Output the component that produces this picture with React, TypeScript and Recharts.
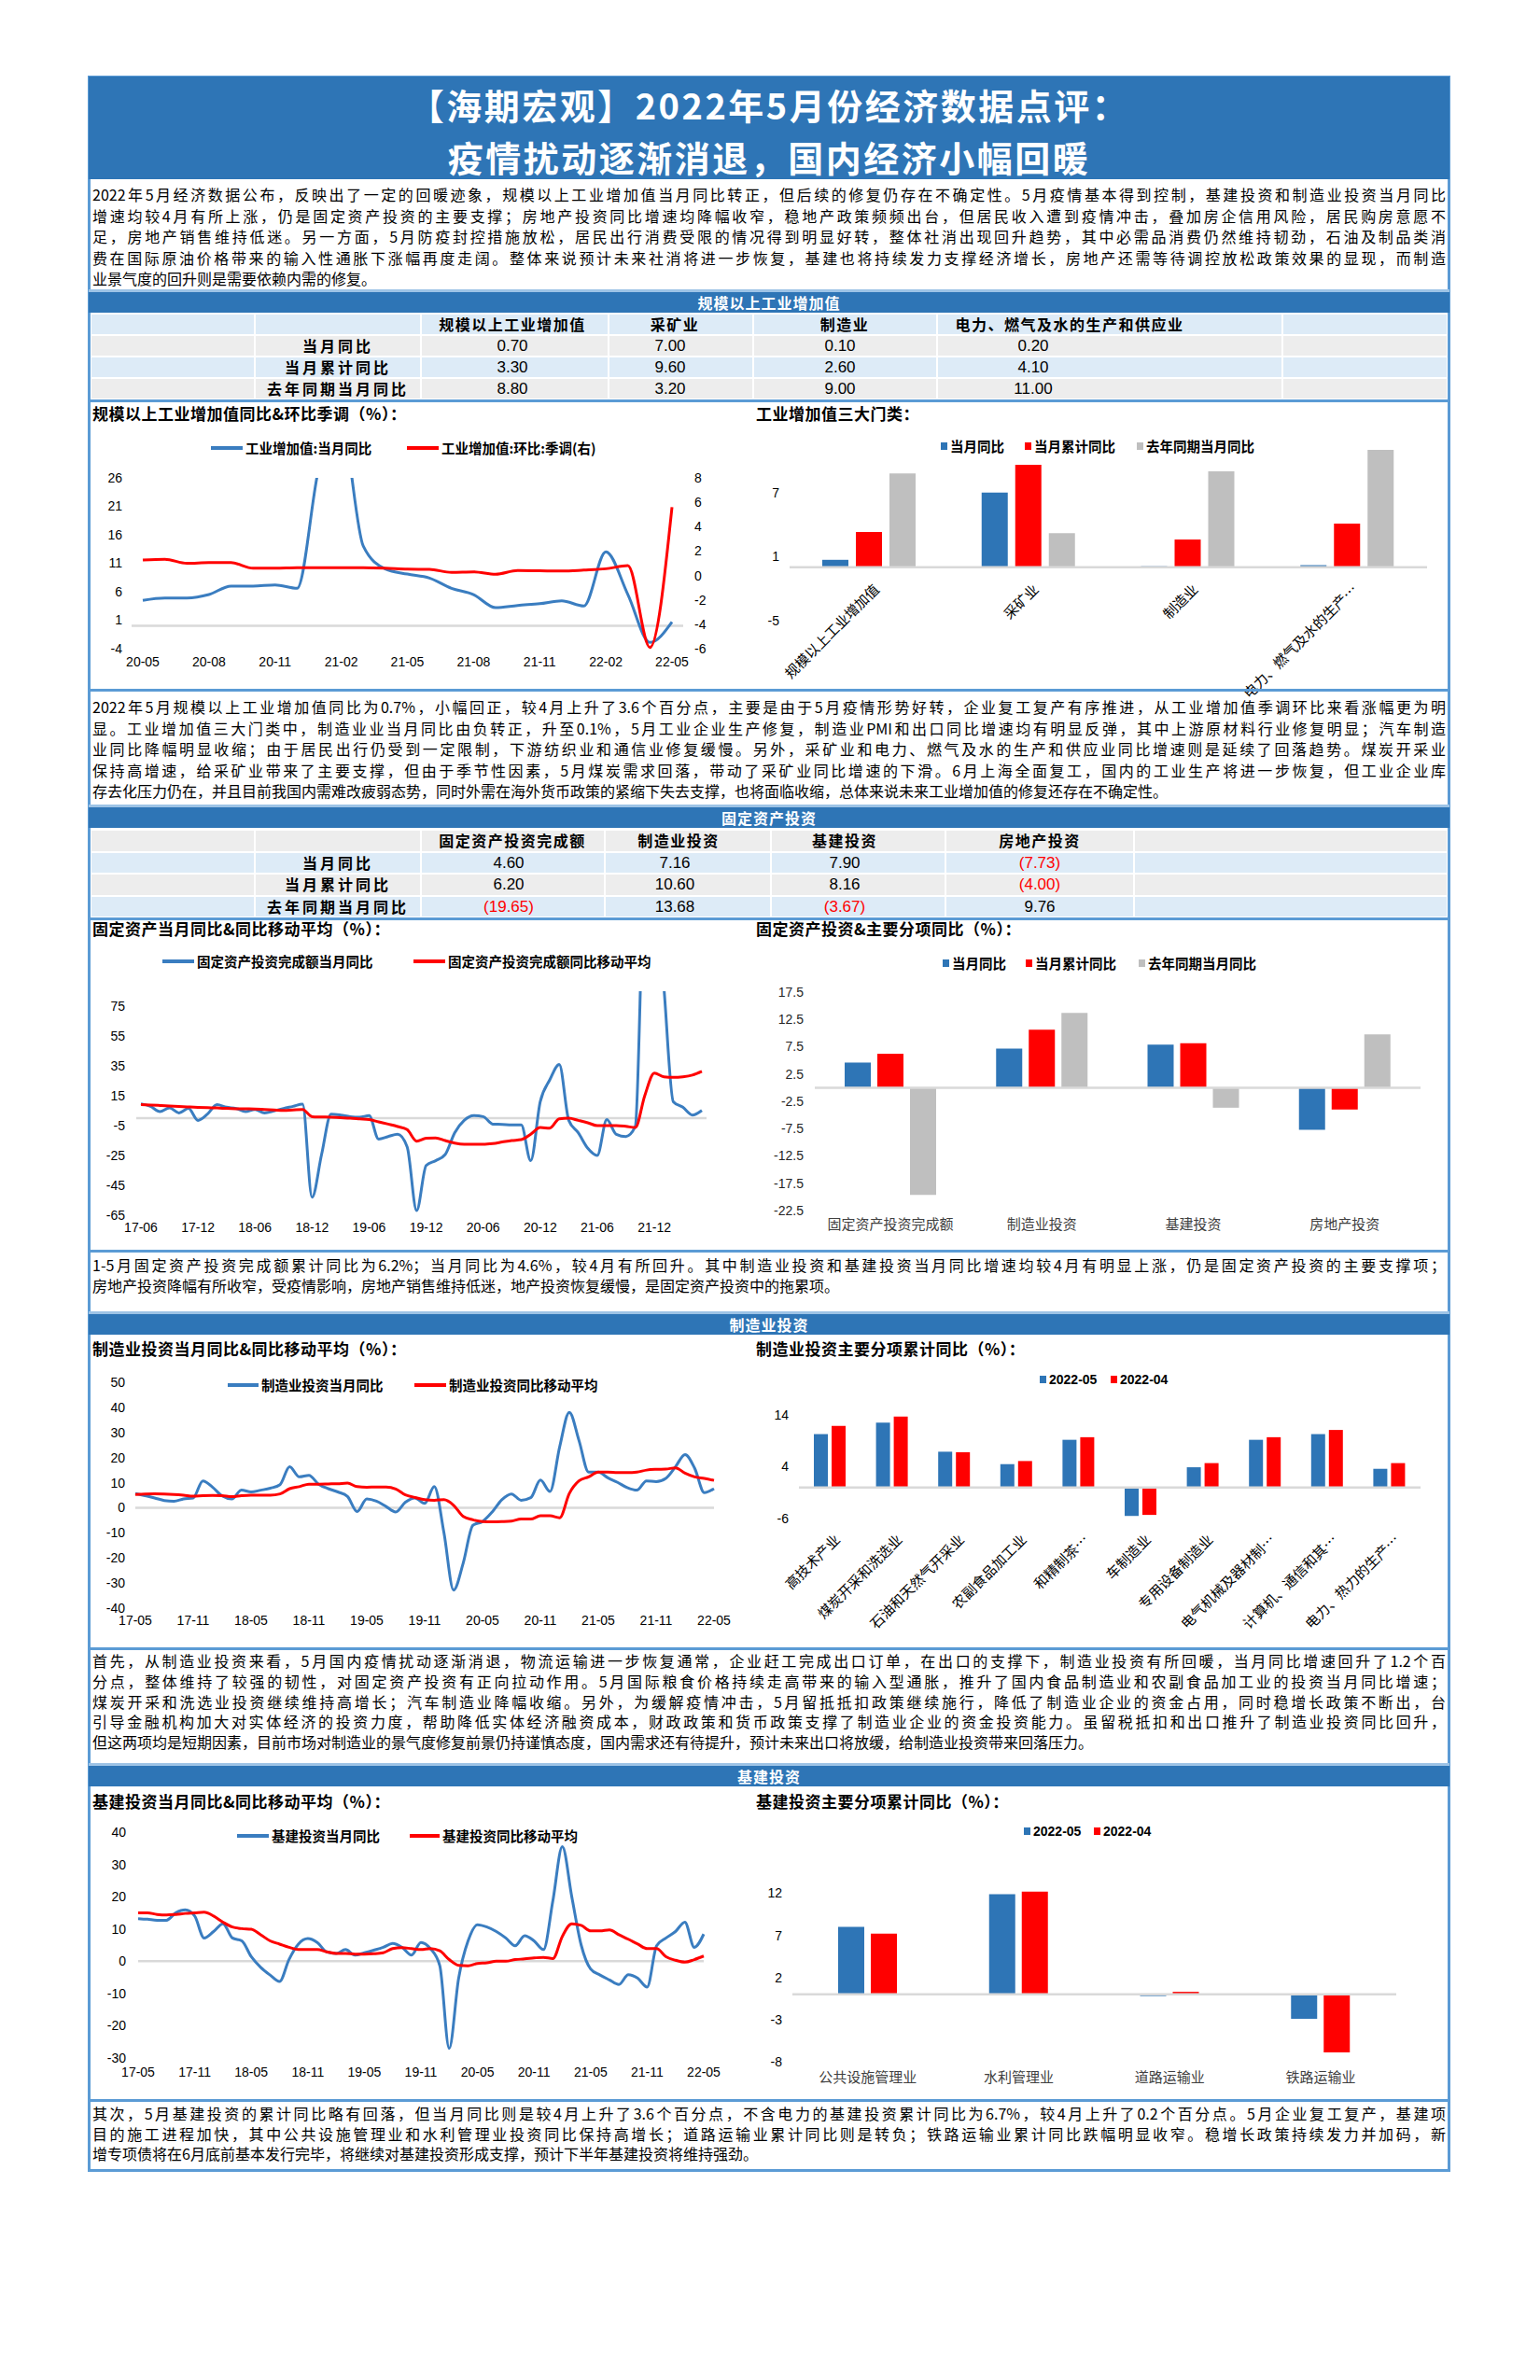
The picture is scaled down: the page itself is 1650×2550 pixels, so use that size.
import React from 'react';
import { LineChart, Line, BarChart, Bar, XAxis, YAxis, ReferenceLine } from 'recharts';

const CN = '"Noto Sans CJK SC", "Noto Sans", sans-serif';
const NUM = '"Liberation Sans", Arial, sans-serif';
const NARROW = '"Liberation Sans Narrow", "Liberation Sans", Arial, sans-serif';
const HEAD_BLUE = '#2E75B6';
const FRAME = '#5B9BD5';
const LINE_BLUE = '#3A7DC0';
const RED = '#FF0000';
const GRAY = '#BFBFBF';
const AXIS_GRAY = '#D9D9D9';

const monthLabels = (yy: number, mm: number, n: number) => {
  const out: string[] = [];
  for (let i = 0; i < n; i++) {
    const t = mm - 1 + i;
    out.push(`${yy + Math.floor(t / 12)}-${String((t % 12) + 1).padStart(2, '0')}`);
  }
  return out;
};

// ---- 规模以上工业增加值 ----
const ipMonths = monthLabels(20, 5, 25);
const ipYoy = [4.5, 4.9, 4.9, 5.5, 7.0, 7.0, 7.2, 6.6, 28, 35.1, 14.0, 10.0, 9.1, 8.4, 6.6, 5.5, 3.2, 3.6, 3.9, 4.4, 3.5, 13.0, 5.5, -2.9, 0.7];
const ipMom = [1.26, 1.33, 1.0, 1.05, 1.05, 0.6, 0.6, 0.64, 0.64, 0.64, 0.64, 0.6, 0.52, 0.5, 0.26, 0.3, 0.1, 0.4, 0.38, 0.36, 0.44, 0.55, 0.8, -5.9, 5.6];
const ipCats = ['规模以上工业增加值', '采矿业', '制造业', '电力、燃气及水的生产…'];
const ipHeaders = ['规模以上工业增加值', '采矿业', '制造业', '电力、燃气及水的生产和供应业'];
const ipCur = [0.7, 7.0, 0.1, 0.2];
const ipCum = [3.3, 9.6, 2.6, 4.1];
const ipLast = [8.8, 3.2, 9.0, 11.0];

// ---- 固定资产投资 ----
const faiMonths = monthLabels(17, 6, 60);
const faiYoy = [9.6, 7.9, 4.4, 6.9, 3.5, 6.5, -1.5, 2.7, 9.0, 7.3,
  6.5, 4.4, 5.8, 3.5, 4.8, 6.5, 7.9, 9.4, -53, -24.4,
  2.7, 2.1, 1.0, 0.6, 1.7, -14, -12.3, -10.8, -19.2, -61.9,
  -31.7, -28.5, -24.4, -9.8, -1.5, 1.7, 1.0, -4.0, -4.2, -4.6,
  -4.6, -28.5, 11.0, 25.6, 36.0, -1.5, -9.8, -20.2, -25, -1.0,
  -10.8, -12.3, -5.6, 160, 160, 88, 11.0, 7.3, 2.1, 5.2];
const faiMa = [9.0, 8.8, 8.5, 8.2, 7.8, 7.5, 7.2, 7.0, 6.8, 6.5,
  6.3, 6.2, 6.1, 5.8, 5.5, 5.2, 5.5, 5.8, 1.0, 0.8,
  0.6, 0.3, 0.0, -0.5, -1.0, -2.5, -4.0, -5.6, -7.7, -15.4,
  -13.5, -13.3, -15.0, -16.7, -17.5, -17.5, -17.5, -17.0, -16.0, -15.0,
  -14.4, -10.8, -6.3, -6.7, -0.4, 0.0, -1.5, -3.1, -5.0, -5.0,
  -5.0, -5.5, -6.3, 15.2, 30.2, 27.7, 27.3, 27.7, 28.8, 31.3];
const faiCats = ['固定资产投资完成额', '制造业投资', '基建投资', '房地产投资'];
const faiCur = [4.6, 7.16, 7.9, -7.73];
const faiCum = [6.2, 10.6, 8.16, -4.0];
const faiLast = [-19.65, 13.68, -3.67, 9.76];

// ---- 制造业投资 ----
const mfgMonths = monthLabels(17, 5, 61);
const mfgYoy = [5.7, 4.8, 3.9, 2.9, 2.6, 3.5, 3.9, 10.7, 8.2, 4.7,
  3.5, 7.0, 6.3, 7.0, 7.8, 9.2, 16.3, 12.3, 12.9, 9.4,
  7.6, 6.3, 4.5, -1.5, 3.5, 2.6, 0.5, -1.7, 2.2, 3.9,
  1.7, 8.4, -10, -32.8, -22, -7.0, -5.5, -1.7, 3.2, 5.5,
  3.0, 4.0, 11.0, 6.5, 24.3, 38.0, 26.8, 14.2, 14.2, 11.9,
  10.1, 8.0, 7.0, 10.7, 10.4, 11.7, 16.3, 21.2, 15.7, 6.0, 7.6];
const mfgMa = [5.3, 5.5, 5.6, 5.5, 5.3, 5.0, 4.6, 4.8, 4.9, 4.8,
  4.4, 4.8, 5.0, 5.0, 5.0, 5.5, 7.6, 8.4, 9.4, 9.4,
  9.5, 9.6, 9.8, 8.4, 8.2, 8.3, 8.3, 7.5, 5.1, 4.1,
  3.2, 3.0, 3.2, 1.0, -3.5, -4.8, -5.5, -5.6, -5.5, -5.3,
  -4.5, -4.5, -3.2, -3.2, -4.0, 5.7, 10.7, 12.3, 14.2, 14.2,
  14.0, 14.0, 14.2, 15.0, 15.3, 15.4, 15.9, 13.8, 12.3, 11.7, 10.9];
const mfgCats = ['高技术产业', '煤炭开采和洗选业', '石油和天然气开采业', '农副食品加工业', '和精制茶…', '车制造业', '专用设备制造业', '电气机械及器材制…', '计算机、通信和其…', '电力、热力的生产…'];
const mfg2205 = [10.3, 12.5, 6.9, 4.5, 9.2, -5.5, 3.9, 9.2, 10.3, 3.6];
const mfg2204 = [11.9, 13.7, 6.8, 5.1, 9.7, -5.3, 4.7, 9.7, 11.1, 4.7];

// ---- 基建投资 ----
const infraMonths = monthLabels(17, 5, 61);
const infraYoy = [13.2, 13.0, 12.7, 12.7, 15.0, 15.9, 14.0, 7.2, 9.2, 11.6,
  7.2, 6.3, 1.4, -1.9, -4.3, -6.3, 0.5, 5.3, 7.0, 5.8,
  2.9, 2.4, 3.6, 1.9, 2.6, 3.4, 4.3, 5.5, 4.3, 1.9,
  5.8, 3.9, -1.4, -27.0, -5.3, 6.3, 11.3, 10.6, 9.2, 7.2,
  4.8, 7.9, 6.3, 3.6, 18.8, 35.5, 20.0, 5.0, -2.4, -4.3,
  -5.8, -7.2, -4.2, -5.3, -8.0, 4.8, 7.2, 9.2, 12.1, 4.3, 8.4];
const infraMa = [15.0, 15.0, 14.5, 14.3, 14.5, 14.8, 15.0, 15.2, 14.0, 12.1,
  10.6, 10.1, 9.9, 8.2, 6.3, 5.3, 4.3, 3.6, 3.6, 3.6,
  2.9, 2.4, 2.4, 2.2, 2.2, 2.3, 2.6, 3.9, 4.2, 3.9,
  3.6, 3.9, 3.2, 0.5, -1.3, -1.4, -0.7, -0.5, 0.0, 0.0,
  0.5, 0.7, 1.0, 1.2, 0.8, 7.7, 11.6, 11.1, 9.4, 9.4,
  9.7, 8.2, 6.8, 5.3, 3.9, 3.9, 1.4, 0.3, -0.3, 0.5, 1.6];
const infraCats = ['公共设施管理业', '水利管理业', '道路运输业', '铁路运输业'];
const infra2205 = [8.0, 11.9, -0.2, -2.9];
const infra2204 = [7.2, 12.2, 0.3, -6.9];

const rowLabels = ['当月同比', '当月累计同比', '去年同期当月同比'];

// ---- text ----
const titleLines = ['【海期宏观】2022年5月份经济数据点评：', '疫情扰动逐渐消退，国内经济小幅回暖'];
const para1 = [
  '2022年5月经济数据公布，反映出了一定的回暖迹象，规模以上工业增加值当月同比转正，但后续的修复仍存在不确定性。5月疫情基本得到控制，基建投资和制造业投资当月同比',
  '增速均较4月有所上涨，仍是固定资产投资的主要支撑；房地产投资同比增速均降幅收窄，稳地产政策频频出台，但居民收入遭到疫情冲击，叠加房企信用风险，居民购房意愿不',
  '足，房地产销售维持低迷。另一方面，5月防疫封控措施放松，居民出行消费受限的情况得到明显好转，整体社消出现回升趋势，其中必需品消费仍然维持韧劲，石油及制品类消',
  '费在国际原油价格带来的输入性通胀下涨幅再度走阔。整体来说预计未来社消将进一步恢复，基建也将持续发力支撑经济增长，房地产还需等待调控放松政策效果的显现，而制造',
  '业景气度的回升则是需要依赖内需的修复。',
];
const para2 = [
  '2022年5月规模以上工业增加值同比为0.7%，小幅回正，较4月上升了3.6个百分点，主要是由于5月疫情形势好转，企业复工复产有序推进，从工业增加值季调环比来看涨幅更为明',
  '显。工业增加值三大门类中，制造业业当月同比由负转正，升至0.1%，5月工业企业生产修复，制造业PMI和出口同比增速均有明显反弹，其中上游原材料行业修复明显；汽车制造',
  '业同比降幅明显收缩；由于居民出行仍受到一定限制，下游纺织业和通信业修复缓慢。另外，采矿业和电力、燃气及水的生产和供应业同比增速则是延续了回落趋势。煤炭开采业',
  '保持高增速，给采矿业带来了主要支撑，但由于季节性因素，5月煤炭需求回落，带动了采矿业同比增速的下滑。6月上海全面复工，国内的工业生产将进一步恢复，但工业企业库',
  '存去化压力仍在，并且目前我国内需难改疲弱态势，同时外需在海外货币政策的紧缩下失去支撑，也将面临收缩，总体来说未来工业增加值的修复还存在不确定性。',
];
const para3 = [
  '1-5月固定资产投资完成额累计同比为6.2%；当月同比为4.6%，较4月有所回升。其中制造业投资和基建投资当月同比增速均较4月有明显上涨，仍是固定资产投资的主要支撑项；',
  '房地产投资降幅有所收窄，受疫情影响，房地产销售维持低迷，地产投资恢复缓慢，是固定资产投资中的拖累项。',
];
const para4 = [
  '首先，从制造业投资来看，5月国内疫情扰动逐渐消退，物流运输进一步恢复通常，企业赶工完成出口订单，在出口的支撑下，制造业投资有所回暖，当月同比增速回升了1.2个百',
  '分点，整体维持了较强的韧性，对固定资产投资有正向拉动作用。5月国际粮食价格持续走高带来的输入型通胀，推升了国内食品制造业和农副食品加工业的投资当月同比增速；',
  '煤炭开采和洗选业投资继续维持高增长；汽车制造业降幅收缩。另外，为缓解疫情冲击，5月留抵抵扣政策继续施行，降低了制造业企业的资金占用，同时稳增长政策不断出，台',
  '引导金融机构加大对实体经济的投资力度，帮助降低实体经济融资成本，财政政策和货币政策支撑了制造业企业的资金投资能力。虽留税抵扣和出口推升了制造业投资同比回升，',
  '但这两项均是短期因素，目前市场对制造业的景气度修复前景仍持谨慎态度，国内需求还有待提升，预计未来出口将放缓，给制造业投资带来回落压力。',
];
const para5 = [
  '其次，5月基建投资的累计同比略有回落，但当月同比则是较4月上升了3.6个百分点，不含电力的基建投资累计同比为6.7%，较4月上升了0.2个百分点。5月企业复工复产，基建项',
  '目的施工进程加快，其中公共设施管理业和水利管理业投资同比保持高增长；道路运输业累计同比则是转负；铁路运输业累计同比跌幅明显收窄。稳增长政策持续发力并加码，新',
  '增专项债将在6月底前基本发行完毕，将继续对基建投资形成支撑，预计下半年基建投资将维持强劲。',
];

const numTick = { fontSize: 14, fontFamily: NUM, fill: '#000' };
const cnTick = { fontSize: 15, fontFamily: CN, fill: '#404040' };

const mg = (box: number[], plot: number[], yl: number, yr: number, xh: number) => ({
  top: plot[1] - box[1],
  left: plot[0] - box[0] - yl,
  right: box[0] + box[2] - plot[2] - yr,
  bottom: box[1] + box[3] - plot[3] - xh,
});

const rotTick = (anchorY: number) => (p: any) => (
  <text
    key={p.index}
    transform={`translate(${p.x + 8},${anchorY}) rotate(-45)`}
    textAnchor="end"
    dy="0.35em"
    fontSize={15}
    fontFamily={CN}
    fill="#000"
  >
    {p.payload.value}
  </text>
);

const fmt = (v: number) => (v < 0 ? `(${Math.abs(v).toFixed(2)})` : v.toFixed(2));

const Para = ({ top, lines, lh }: { top: number; lines: string[]; lh: number }) => (
  <>
    {lines.map((t, i) => (
      <div
        key={i}
        style={{
          position: 'absolute', left: 99, top: top + i * lh, width: 1450, height: lh, lineHeight: `${lh}px`,
          fontSize: 16, fontFamily: CN, color: '#000',
          textAlign: 'justify', textAlignLast: i < lines.length - 1 ? 'justify' : 'left',
        }}
      >
        {t}
      </div>
    ))}
  </>
);

const HLine = ({ y }: { y: number }) => (
  <div style={{ position: 'absolute', left: 95, top: y, width: 1458, height: 3, background: FRAME }} />
);

const SectionBar = ({ top, text }: { top: number; text: string }) => (
  <div
    style={{
      position: 'absolute', left: 95, top: top - 3, width: 1458, height: 22, borderTop: '3px solid #9DC3E6',
      background: HEAD_BLUE, color: '#fff', fontFamily: CN, fontWeight: 700, fontSize: 16,
      textAlign: 'center', lineHeight: '22px', letterSpacing: 1,
    }}
  >
    {text}
  </div>
);

const ChartTitle = ({ x, y, text }: { x: number; y: number; text: string }) => (
  <div style={{ position: 'absolute', left: x, top: y - 12, height: 24, lineHeight: '24px', fontSize: 17, fontWeight: 700, fontFamily: CN, whiteSpace: 'nowrap', letterSpacing: 0.5 }}>
    {text}
  </div>
);

const LegendLine = ({ x, tx, y, color, text }: { x: number; tx: number; y: number; color: string; text: string }) => (
  <>
    <div style={{ position: 'absolute', left: x, top: y - 2, width: tx - x - 3, height: 4, background: color }} />
    <div style={{ position: 'absolute', left: tx, top: y - 11, height: 22, lineHeight: '22px', fontSize: 14.5, fontWeight: 700, fontFamily: CN, whiteSpace: 'nowrap' }}>{text}</div>
  </>
);

const LegendSquare = ({ x, y, color, text, num }: { x: number; y: number; color: string; text: string; num?: boolean }) => (
  <>
    <div style={{ position: 'absolute', left: x, top: y - 4, width: 7, height: 8, background: color }} />
    <div style={{ position: 'absolute', left: x + 10, top: y - 11, height: 22, lineHeight: '22px', fontSize: num ? 14 : 14.5, fontWeight: 700, fontFamily: num ? NARROW : CN, whiteSpace: 'nowrap' }}>{text}</div>
  </>
);

const DataTable = ({ top, rowH, edges, headers, headerCenters, valueCenters, rows, bgs }: any) => {
  const els: React.ReactNode[] = [];
  for (let r = 0; r < 4; r++) {
    const y = top + r * rowH;
    for (let c = 0; c < edges.length - 1; c++) {
      els.push(
        <div key={`c${r}-${c}`} style={{ position: 'absolute', left: edges[c] + 1, top: y + 1, width: edges[c + 1] - edges[c] - 2, height: rowH - 2, background: bgs[r] }} />
      );
    }
  }
  const txt = (key: string, cx: number, y: number, s: string, style: any) => (
    <div key={key} style={{ position: 'absolute', left: cx - 200, width: 400, top: y, height: rowH, lineHeight: `${rowH}px`, textAlign: 'center', whiteSpace: 'nowrap', ...style }}>{s}</div>
  );
  const headStyle = { fontFamily: CN, fontWeight: 700, fontSize: 16, letterSpacing: 1.5 };
  headers.forEach((h: string, i: number) => els.push(txt(`h${i}`, headerCenters[i], top, h, headStyle)));
  rows.forEach((vals: number[], r: number) => {
    const y = top + (r + 1) * rowH;
    els.push(txt(`l${r}`, 362, y, rowLabels[r], { ...headStyle, letterSpacing: 3 }));
    vals.forEach((v, c) =>
      els.push(txt(`v${r}-${c}`, valueCenters[c], y, fmt(v), { fontFamily: NARROW, fontSize: 17, color: v < 0 ? RED : '#000' }))
    );
  });
  return <>{els}</>;
};

export default function App() {
  const ipLineData = ipMonths.map((m, i) => ({ m, yoy: ipYoy[i], mom: ipMom[i] }));
  const ipBarData = ipCats.map((c, i) => ({ c, cur: ipCur[i], cum: ipCum[i], last: ipLast[i] }));
  const faiLineData = faiMonths.map((m, i) => ({ m, yoy: faiYoy[i], ma: faiMa[i] }));
  const faiBarData = faiCats.map((c, i) => ({ c, cur: faiCur[i], cum: faiCum[i], last: faiLast[i] }));
  const mfgLineData = mfgMonths.map((m, i) => ({ m, yoy: mfgYoy[i], ma: mfgMa[i] }));
  const mfgBarData = mfgCats.map((c, i) => ({ c, a: mfg2205[i], b: mfg2204[i] }));
  const infraLineData = infraMonths.map((m, i) => ({ m, yoy: infraYoy[i], ma: infraMa[i] }));
  const infraBarData = infraCats.map((c, i) => ({ c, a: infra2205[i], b: infra2204[i] }));

  // chart boxes [x, y, w, h] and plot areas [x1, y1, x2, y2], page pixels
  const boxA = [96, 495, 690, 235], plotA = [141, 512, 732, 695];
  const boxB = [800, 470, 750, 295], plotB = [846, 482, 1529, 665];
  const boxC = [96, 1045, 690, 290], plotC = [146, 1062, 757, 1302];
  const boxD = [800, 1050, 750, 285], plotD = [873, 1063, 1522, 1297];
  const boxE = [96, 1465, 690, 295], plotE = [145, 1481, 765, 1723];
  const boxF = [800, 1500, 750, 262], plotF = [856, 1516, 1522, 1627];
  const boxG = [96, 1945, 690, 295], plotG = [148, 1963, 754, 2205];
  const boxH = [800, 2010, 750, 235], plotH = [849, 2024, 1496, 2209];

  const bZeroY = plotB[1] - boxB[1] + ((plotB[3] - plotB[1]) * 11) / 16 + 21;
  const fLabelY = plotF[3] - boxF[1] + 20;

  const place = (b: number[]) => ({ position: 'absolute' as const, left: b[0], top: b[1] });

  return (
    <div style={{ position: 'absolute', left: 0, top: 0, width: 1650, height: 2550, background: '#fff', fontFamily: CN }}>
      {/* frame */}
      <div style={{ position: 'absolute', left: 94, top: 81, width: 1454, height: 2240, border: `3px solid ${FRAME}` }} />
      <div style={{ position: 'absolute', left: 95, top: 82, width: 1458, height: 110, background: HEAD_BLUE }} />
      {titleLines.map((t, i) => (
        <div
          key={i}
          style={{
            position: 'absolute', left: 95, top: 84 + i * 56, width: 1458, height: 56, lineHeight: '56px',
            textAlign: 'center', color: '#fff', fontWeight: 700, fontSize: 38, letterSpacing: 2.5, whiteSpace: 'nowrap',
          }}
        >
          {t}
        </div>
      ))}

      <Para top={197} lines={para1} lh={22.6} />

      <SectionBar top={313} text="规模以上工业增加值" />
      <DataTable
        top={336}
        rowH={23}
        edges={[97, 273, 451, 652, 807, 1004, 1374, 1551]}
        headers={ipHeaders}
        headerCenters={[549, 723, 905, 1146]}
        valueCenters={[549, 718, 900, 1107]}
        rows={[ipCur, ipCum, ipLast]}
        bgs={['#DDEBF7', '#EDEDED', '#DDEBF7', '#EDEDED']}
      />
      <HLine y={428} />

      <ChartTitle x={99} y={443} text="规模以上工业增加值同比&环比季调（%）：" />
      <ChartTitle x={810} y={443} text="工业增加值三大门类：" />

      <LegendLine x={226} tx={263} y={480} color={LINE_BLUE} text="工业增加值:当月同比" />
      <LegendLine x={436} tx={473} y={480} color={RED} text="工业增加值:环比:季调(右)" />
      <div style={place(boxA)}>
        <LineChart width={boxA[2]} height={boxA[3]} data={ipLineData} margin={mg(boxA, plotA, 40, 40, 25)}>
          <XAxis dataKey="m" scale="point" interval={2} padding={{ left: 12, right: 12 }} axisLine={false} tickLine={false} tickMargin={3} height={25} tick={numTick} />
          <YAxis yAxisId="l" domain={[-4, 26]} ticks={[-4, 1, 6, 11, 16, 21, 26]} allowDataOverflow width={40} axisLine={false} tickLine={false} tickMargin={4} tick={numTick} />
          <YAxis yAxisId="r" orientation="right" domain={[-6, 8]} ticks={[-6, -4, -2, 0, 2, 4, 6, 8]} width={40} axisLine={false} tickLine={false} tickMargin={6} tick={numTick} />
          <ReferenceLine yAxisId="l" y={0} stroke={AXIS_GRAY} strokeWidth={2.5} />
          <Line yAxisId="l" dataKey="yoy" type="monotone" stroke={LINE_BLUE} strokeWidth={3} dot={false} activeDot={false} isAnimationActive={false} />
          <Line yAxisId="r" dataKey="mom" type="monotone" stroke={RED} strokeWidth={3} dot={false} activeDot={false} isAnimationActive={false} />
        </LineChart>
      </div>

      <LegendSquare x={1008} y={478} color={HEAD_BLUE} text="当月同比" />
      <LegendSquare x={1098} y={478} color={RED} text="当月累计同比" />
      <LegendSquare x={1218} y={478} color={GRAY} text="去年同期当月同比" />
      <div style={place(boxB)}>
        <BarChart width={boxB[2]} height={boxB[3]} data={ipBarData} margin={mg(boxB, plotB, 40, 0, 20)} barSize={28} barGap={8}>
          <XAxis dataKey="c" axisLine={false} tickLine={false} height={20} interval={0} tick={rotTick(bZeroY)} />
          <YAxis domain={[-5, 11]} ticks={[-5, 1, 7]} width={40} axisLine={false} tickLine={false} tickMargin={5} tick={numTick} />
          <ReferenceLine y={0} stroke={AXIS_GRAY} strokeWidth={2.5} />
          <Bar dataKey="cur" fill={HEAD_BLUE} isAnimationActive={false} />
          <Bar dataKey="cum" fill={RED} isAnimationActive={false} />
          <Bar dataKey="last" fill={GRAY} isAnimationActive={false} />
        </BarChart>
      </div>

      <HLine y={738} />
      <Para top={746} lines={para2} lh={22.5} />

      <SectionBar top={865} text="固定资产投资" />
      <DataTable
        top={889}
        rowH={23.5}
        edges={[97, 273, 451, 648, 826, 1013, 1215, 1551]}
        headers={faiCats}
        headerCenters={[549, 727, 905, 1114]}
        valueCenters={[545, 723, 905, 1114]}
        rows={[faiCur, faiCum, faiLast]}
        bgs={['#EDEDED', '#DDEBF7', '#EDEDED', '#DDEBF7']}
      />
      <HLine y={983} />

      <ChartTitle x={99} y={995} text="固定资产当月同比&同比移动平均（%）：" />
      <ChartTitle x={810} y={995} text="固定资产投资&主要分项同比（%）：" />

      <LegendLine x={174} tx={211} y={1030} color={LINE_BLUE} text="固定资产投资完成额当月同比" />
      <LegendLine x={443} tx={480} y={1030} color={RED} text="固定资产投资完成额同比移动平均" />
      <div style={place(boxC)}>
        <LineChart width={boxC[2]} height={boxC[3]} data={faiLineData} margin={mg(boxC, plotC, 40, 0, 25)}>
          <XAxis dataKey="m" scale="point" interval={5} padding={{ left: 5, right: 5 }} axisLine={false} tickLine={false} tickMargin={2} height={25} tick={numTick} />
          <YAxis domain={[-65, 85]} ticks={[-65, -45, -25, -5, 15, 35, 55, 75]} allowDataOverflow width={40} axisLine={false} tickLine={false} tickMargin={6} tick={numTick} />
          <ReferenceLine y={0} stroke={AXIS_GRAY} strokeWidth={2.5} />
          <Line dataKey="yoy" type="monotone" stroke={LINE_BLUE} strokeWidth={3} dot={false} activeDot={false} isAnimationActive={false} />
          <Line dataKey="ma" type="monotone" stroke={RED} strokeWidth={3} dot={false} activeDot={false} isAnimationActive={false} />
        </LineChart>
      </div>

      <LegendSquare x={1010} y={1032} color={HEAD_BLUE} text="当月同比" />
      <LegendSquare x={1099} y={1032} color={RED} text="当月累计同比" />
      <LegendSquare x={1220} y={1032} color={GRAY} text="去年同期当月同比" />
      <div style={place(boxD)}>
        <BarChart width={boxD[2]} height={boxD[3]} data={faiBarData} margin={mg(boxD, plotD, 40, 0, 25)} barSize={28} barGap={7}>
          <XAxis dataKey="c" axisLine={false} tickLine={false} height={25} interval={0} tickMargin={3} tick={cnTick} />
          <YAxis domain={[-22.5, 17.5]} ticks={[-22.5, -17.5, -12.5, -7.5, -2.5, 2.5, 7.5, 12.5, 17.5]} width={40} axisLine={false} tickLine={false} tickMargin={6} tick={{ ...numTick, fill: '#262626' }} />
          <ReferenceLine y={0} stroke={AXIS_GRAY} strokeWidth={2.5} />
          <Bar dataKey="cur" fill={HEAD_BLUE} isAnimationActive={false} />
          <Bar dataKey="cum" fill={RED} isAnimationActive={false} />
          <Bar dataKey="last" fill={GRAY} isAnimationActive={false} />
        </BarChart>
      </div>

      <HLine y={1339} />
      <Para top={1344} lines={para3} lh={22} />

      <SectionBar top={1408} text="制造业投资" />
      <ChartTitle x={99} y={1445} text="制造业投资当月同比&同比移动平均（%）：" />
      <ChartTitle x={810} y={1445} text="制造业投资主要分项累计同比（%）：" />

      <LegendLine x={244} tx={280} y={1484} color={LINE_BLUE} text="制造业投资当月同比" />
      <LegendLine x={444} tx={481} y={1484} color={RED} text="制造业投资同比移动平均" />
      <div style={place(boxE)}>
        <LineChart width={boxE[2]} height={boxE[3]} data={mfgLineData} margin={mg(boxE, plotE, 40, 0, 25)}>
          <XAxis dataKey="m" scale="point" interval={5} axisLine={false} tickLine={false} tickMargin={2} height={25} tick={numTick} />
          <YAxis domain={[-40, 50]} ticks={[-40, -30, -20, -10, 0, 10, 20, 30, 40, 50]} width={40} axisLine={false} tickLine={false} tickMargin={5} tick={numTick} />
          <ReferenceLine y={0} stroke={AXIS_GRAY} strokeWidth={2.5} />
          <Line dataKey="yoy" type="monotone" stroke={LINE_BLUE} strokeWidth={3} dot={false} activeDot={false} isAnimationActive={false} />
          <Line dataKey="ma" type="monotone" stroke={RED} strokeWidth={3} dot={false} activeDot={false} isAnimationActive={false} />
        </LineChart>
      </div>

      <LegendSquare x={1114} y={1478} color={HEAD_BLUE} text="2022-05" num />
      <LegendSquare x={1190} y={1478} color={RED} text="2022-04" num />
      <div style={place(boxF)}>
        <BarChart width={boxF[2]} height={boxF[3]} data={mfgBarData} margin={mg(boxF, plotF, 40, 0, 20)} barSize={15} barGap={4}>
          <XAxis dataKey="c" axisLine={false} tickLine={false} height={20} interval={0} tick={rotTick(fLabelY)} />
          <YAxis domain={[-6, 14]} ticks={[-6, 4, 14]} width={40} axisLine={false} tickLine={false} tickMargin={5} tick={numTick} />
          <ReferenceLine y={0} stroke={AXIS_GRAY} strokeWidth={2.5} />
          <Bar dataKey="a" fill={HEAD_BLUE} isAnimationActive={false} />
          <Bar dataKey="b" fill={RED} isAnimationActive={false} />
        </BarChart>
      </div>

      <HLine y={1765} />
      <Para top={1769} lines={para4} lh={21.8} />

      <SectionBar top={1892} text="基建投资" />
      <ChartTitle x={99} y={1930} text="基建投资当月同比&同比移动平均（%）：" />
      <ChartTitle x={810} y={1930} text="基建投资主要分项累计同比（%）：" />

      <LegendLine x={254} tx={291} y={1967} color={LINE_BLUE} text="基建投资当月同比" />
      <LegendLine x={439} tx={474} y={1967} color={RED} text="基建投资同比移动平均" />
      <div style={place(boxG)}>
        <LineChart width={boxG[2]} height={boxG[3]} data={infraLineData} margin={mg(boxG, plotG, 40, 0, 25)}>
          <XAxis dataKey="m" scale="point" interval={5} axisLine={false} tickLine={false} tickMargin={4} height={25} tick={numTick} />
          <YAxis domain={[-30, 40]} ticks={[-30, -20, -10, 0, 10, 20, 30, 40]} width={40} axisLine={false} tickLine={false} tickMargin={7} tick={numTick} />
          <ReferenceLine y={0} stroke={AXIS_GRAY} strokeWidth={2.5} />
          <Line dataKey="yoy" type="monotone" stroke={LINE_BLUE} strokeWidth={3} dot={false} activeDot={false} isAnimationActive={false} />
          <Line dataKey="ma" type="monotone" stroke={RED} strokeWidth={3} dot={false} activeDot={false} isAnimationActive={false} />
        </LineChart>
      </div>

      <LegendSquare x={1097} y={1962} color={HEAD_BLUE} text="2022-05" num />
      <LegendSquare x={1172} y={1962} color={RED} text="2022-04" num />
      <div style={place(boxH)}>
        <BarChart width={boxH[2]} height={boxH[3]} data={infraBarData} margin={mg(boxH, plotH, 40, 0, 25)} barSize={28} barGap={7}>
          <XAxis dataKey="c" axisLine={false} tickLine={false} height={25} interval={0} tickMargin={5} tick={cnTick} />
          <YAxis domain={[-8, 12.5]} ticks={[-8, -3, 2, 7, 12]} width={40} axisLine={false} tickLine={false} tickMargin={5} tick={numTick} />
          <ReferenceLine y={0} stroke={AXIS_GRAY} strokeWidth={2.5} />
          <Bar dataKey="a" fill={HEAD_BLUE} isAnimationActive={false} />
          <Bar dataKey="b" fill={RED} isAnimationActive={false} />
        </BarChart>
      </div>

      <HLine y={2249} />
      <Para top={2254} lines={para5} lh={21.5} />
    </div>
  );
}
